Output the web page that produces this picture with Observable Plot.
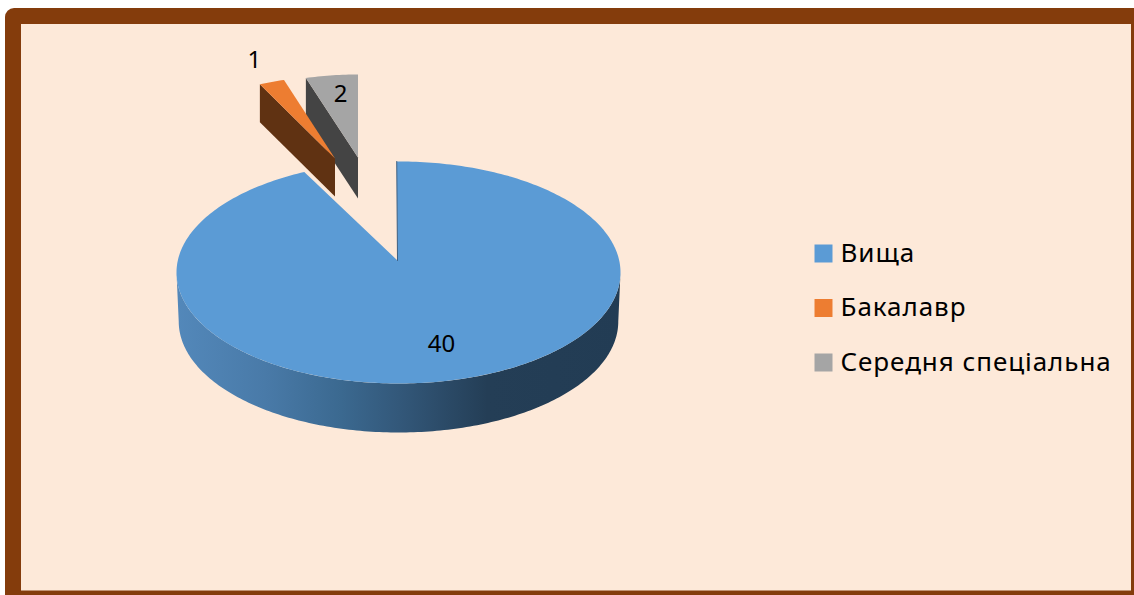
<!DOCTYPE html>
<html>
<head>
<meta charset="utf-8">
<script src="https://cdn.jsdelivr.net/npm/d3@7"></script>
<script src="https://cdn.jsdelivr.net/npm/@observablehq/plot@0.6"></script>
<style>
html,body{margin:0;padding:0;background:#fff;overflow:hidden}
svg{display:block}
</style>
</head>
<body>
<div id="chart"></div>
<script>
// Data
const categories = ["Вища", "Бакалавр", "Середня спеціальна"];
const values = [40, 1, 2];
const colors = ["#5b9bd5", "#ed7d31", "#a5a5a5"];
const sideColors = ["#5b9bd5", "#603212", "#444444"];

// Projection of each exploded slice (perspective view of the 3D pie)
const views = [
  {cx: 398, cy: 272, rx: 222, ry: 111, ax: 397, ay: 260, depth: 49, lx: 0.89, ly: 0.665, skew: -0.008},
  {cx: 334.5, cy: 158, rx: 177, ry: 82, ax: 334.5, ay: 158, depth: 38, lx: 1.274, ly: 1.28, skew: 0},
  {cx: 357.5, cy: 157, rx: 181, ry: 83, ax: 357.5, ay: 157, depth: 41, lx: 0.662, ly: 0.767, skew: 0}
];

const arcs = d3.pie().sort(null).startAngle(0).endAngle(2 * Math.PI)(values);
const STEP = Math.PI / 180;
const on = (v, a, k = 1, d = 0) => ({
  x: v.cx + k * v.rx * Math.sin(a),
  y: v.cy - k * v.ry * Math.cos(a) + d
});
const sweep = (a0, a1) => {
  const n = Math.max(2, Math.ceil(Math.abs(a1 - a0) / STEP));
  return d3.range(n + 1).map(i => a0 + (a1 - a0) * i / n);
};

const tops = categories.flatMap((name, i) => {
  const v = views[i], a = arcs[i];
  return [{x: v.ax, y: v.ay, name},
    ...sweep(a.startAngle + v.skew, a.endAngle).map(t => ({...on(v, t), name})),
    {x: v.ax, y: v.ay, name}];
});
const topOf = name => tops.filter(d => d.name === name);

// Cut face along the slice's leading edge
const sideOf = i => {
  const v = views[i], p = on(v, arcs[i].startAngle);
  return [p, {x: v.ax, y: v.ay}, {x: v.ax, y: v.ay + v.depth}, {x: p.x, y: p.y + v.depth}];
};

// Outer rim of the big slice
const bigView = views[0];
const rim = [
  ...sweep(1.5 * Math.PI, 0.5 * Math.PI).map(t => on(bigView, t)),
  ...sweep(0.5 * Math.PI, 1.5 * Math.PI).map(t => {
    const s = on(bigView, t, 0.99);
    return {x: s.x, y: bigView.cy - bigView.ry * Math.cos(t) + bigView.depth};
  })
];
const notch = [{x: bigView.ax, y: bigView.ay}, on(bigView, arcs[0].startAngle + bigView.skew)];

const labels = categories.map((name, i) => {
  const v = views[i], a = arcs[i], m = (a.startAngle + a.endAngle) / 2;
  return {
    x: v.cx + v.lx * v.rx * Math.sin(m),
    y: v.cy - v.ly * v.ry * Math.cos(m),
    text: String(values[i])
  };
});

const legend = categories.map((name, i) => ({name, row: i}));
const legendY = d => 253 + d.row * 54.5;

const defs = () => {
  const g = d3.create("svg:defs");
  const lg = g.append("linearGradient").attr("id", "rimFill")
    .attr("gradientUnits", "userSpaceOnUse")
    .attr("x1", 176).attr("x2", 620).attr("y1", 0).attr("y2", 0);
  [[0, "#5388ba"], [0.2, "#497aa8"], [0.37, "#3b6990"], [0.5, "#33587a"], [0.7, "#243e56"], [1, "#223c54"]]
    .forEach(([o, c]) => lg.append("stop").attr("offset", o).attr("stop-color", c));
  return g.node();
};

const xy = {x: "x", y: "y", stroke: "none"};
const font = "'Noto Sans', sans-serif";

const chart = Plot.plot({
  width: 1134,
  height: 595,
  margin: 0,
  x: {domain: [0, 1134], range: [0, 1134], axis: null},
  y: {domain: [0, 595], range: [0, 595], axis: null},
  color: {domain: categories, range: colors},
  style: {background: "#ffffff", fontFamily: font},
  marks: [
    defs,
    Plot.rect([{x1: 5, x2: 1150, y1: 8, y2: 610}], {x1: "x1", x2: "x2", y1: "y1", y2: "y2", fill: "#843c0c", rx: 9}),
    Plot.rect([{x1: 21, x2: 1131, y1: 24, y2: 590.5}], {x1: "x1", x2: "x2", y1: "y1", y2: "y2", fill: "#fde9d9"}),

    Plot.line(sideOf(2), {...xy, fill: sideColors[2]}),
    Plot.line(topOf(categories[2]), {...xy, fill: "name"}),
    Plot.line(sideOf(1), {...xy, fill: sideColors[1]}),
    Plot.line(topOf(categories[1]), {...xy, fill: "name"}),

    Plot.line(rim, {...xy, fill: "url(#rimFill)"}),
    Plot.line(topOf(categories[0]), {...xy, fill: "name"}),
    Plot.line(notch, {x: "x", y: "y", stroke: "#3f5f7f", strokeWidth: 1}),

    Plot.text(labels, {x: "x", y: "y", text: "text", fontSize: 24, fill: "#000", fontFamily: font}),

    Plot.dot(legend, {x: () => 823, y: legendY, symbol: "square", r: 10.15, fill: "name", stroke: "none"}),
    Plot.text(legend, {x: () => 840, y: legendY, text: "name", textAnchor: "start", fontSize: 26, fill: "#000", fontFamily: font})
  ]
});
d3.select(chart).selectAll("text")
  .filter(function () { return categories.includes(this.textContent); })
  .style("letter-spacing", "0.95px");
document.getElementById("chart").append(chart);
</script>
</body>
</html>
